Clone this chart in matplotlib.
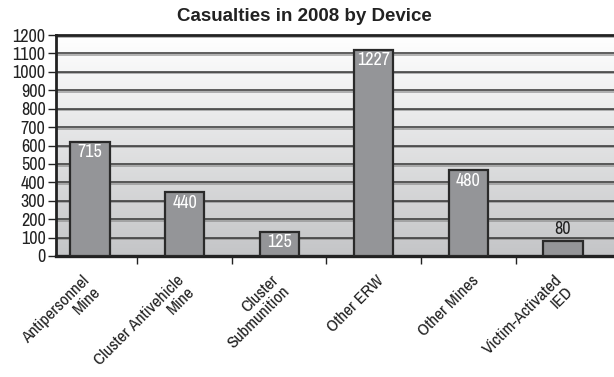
import numpy as np
import matplotlib
matplotlib.use('Agg')
import matplotlib.pyplot as plt
import matplotlib.patheffects as pe
from matplotlib.transforms import ScaledTranslation

plt.rcParams['font.family'] = ['Archivo Narrow', 'Liberation Sans', 'DejaVu Sans']

devices = ['Antipersonnel\nMine', 'Cluster Antivehicle\nMine', 'Cluster\nSubmunition',
           'Other ERW', 'Other Mines', 'Victim-Activated\nIED']
heights = [620, 346, 133, 1120, 467, 80]
labels = ['715', '440', '125', '1227', '480', '80']
yticks = np.arange(0, 1300, 100)

fig = plt.figure(figsize=(6.14, 3.77), dpi=100)
ax = fig.add_axes([56/614, 1-256/377, 1-56/614, 221/377])

x = np.arange(len(devices))
ax.set_xlim(-0.36, 5.54)
ax.set_ylim(0, 1200)

# vertical gradient background
grad = np.linspace(0, 1, 256).reshape(-1, 1)
bg = matplotlib.colors.LinearSegmentedColormap.from_list('bg', ['#c4c5c7', '#ffffff'])
ax.imshow(grad, cmap=bg, extent=[-0.36, 5.54, 0, 1200], aspect='auto', origin='lower', zorder=0)

ax.set_yticks(yticks)
ax.yaxis.grid(True, color='#333333', linewidth=1.1, zorder=1)
for gl in ax.yaxis.get_gridlines():
    gl.set_path_effects([pe.SimpleLineShadow(offset=(0, -1.2), shadow_color='#888888', alpha=0.8), pe.Normal()])
ax.set_axisbelow(True)

ax.bar(x, heights, width=0.415, color='#949598', edgecolor='#2a2a2a', linewidth=1.6, zorder=3)

for xi, h, lab in zip(x, heights, labels):
    if h > 110:
        ax.text(xi, h - 14, lab, ha='center', va='top', color='white', fontsize=13, zorder=4)
    else:
        ax.text(xi, h + 22, lab, ha='center', va='bottom', color='#222222', fontsize=13, zorder=4)

for side in ['left', 'bottom', 'top']:
    ax.spines[side].set_color('#222222')
ax.spines['left'].set_linewidth(2)
ax.spines['bottom'].set_linewidth(2.4)
ax.spines['top'].set_linewidth(2)
ax.spines['right'].set_visible(False)

ax.tick_params(axis='y', length=6, width=1, color='#222222', labelsize=13, pad=1.5, labelcolor='#222222')
ax.set_xticks(x)
ax.set_xticklabels(devices, rotation=45, ha='right', va='top', multialignment='right',
                   fontsize=12.5, color='#222222', linespacing=1.05)
ax.tick_params(axis='x', which='major', length=0, pad=12)
ax.set_xticks((x[:-1] + x[1:]) / 2, minor=True)
ax.tick_params(axis='x', which='minor', length=6, width=1, color='#222222')
for t in ax.get_xticklabels():
    t.set_transform(t.get_transform() + ScaledTranslation(13/100, 0, fig.dpi_scale_trans))

fig.text(0.495, 0.955, 'Casualties in 2008 by Device', ha='center', va='center',
         fontsize=13.5, fontweight='bold', color='#222222', family=['Liberation Sans', 'DejaVu Sans'])

fig.savefig('out.png', dpi=100)
